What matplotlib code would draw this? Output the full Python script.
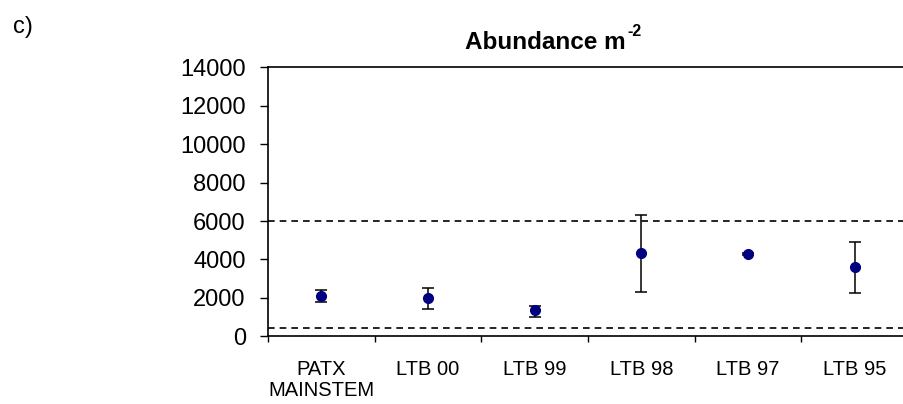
import matplotlib
matplotlib.use("Agg")
import matplotlib.pyplot as plt

plt.rcParams["font.family"] = ["Liberation Sans", "DejaVu Sans"]

# data
sites = ["PATX\nMAINSTEM", "LTB 00", "LTB 99", "LTB 98", "LTB 97", "LTB 95"]
abundance = [2100, 2000, 1350, 4350, 4280, 3600]
err_low = [300, 600, 370, 2030, 30, 1370]
err_high = [300, 500, 220, 1950, 30, 1300]
ref_upper = 6000
ref_lower = 450
y_ticks = [0, 2000, 4000, 6000, 8000, 10000, 12000, 14000]

W, H = 904, 404
fig = plt.figure(figsize=(W / 100, H / 100), dpi=100)
ax = fig.add_axes([268 / W, 1 - 336.3 / H, 640 / W, (336.3 - 67.3) / H])

x = list(range(1, len(sites) + 1))
ax.errorbar(x, abundance, yerr=[err_low, err_high], fmt="o", color="#000080",
            markersize=7, ecolor="black", elinewidth=1.1, capsize=4, capthick=1.1,
            zorder=3)

ax.axhline(ref_upper, color="black", linewidth=1.2, linestyle=(0, (4, 3)), zorder=2)
ax.axhline(ref_lower, color="black", linewidth=1.2, linestyle=(0, (4, 3)), zorder=2)

ax.set_xlim(0.5, len(sites) + 0.5)
ax.set_ylim(0, 14000)
ax.set_yticks(y_ticks)
ax.set_yticklabels([str(v) for v in y_ticks], fontsize=17)
ax.tick_params(axis="y", direction="out", length=6, width=1, pad=10)

ax.set_xticks(x)
ax.set_xticklabels(sites, fontsize=14.5, linespacing=1.15)
ax.tick_params(axis="x", which="major", length=0, pad=17)
ax.set_xticks([i + 0.5 for i in range(len(sites) + 1)], minor=True)
ax.tick_params(axis="x", which="minor", direction="out", length=4, width=1)

for side in ["left", "bottom", "top"]:
    ax.spines[side].set_linewidth(1.2)
ax.spines["right"].set_visible(False)

# title with a small superscript
fig.text(626 / W, 1 - 49 / H, "Abundance m", fontsize=17.5, fontweight="bold",
         ha="right", va="baseline")
fig.text(627 / W, 1 - 36 / H, "-2", fontsize=11.5, fontweight="bold",
         ha="left", va="baseline")

fig.text(13 / W, 1 - 27 / H, "c)", fontsize=17, ha="left", va="center")

fig.savefig("out.png", dpi=100)
